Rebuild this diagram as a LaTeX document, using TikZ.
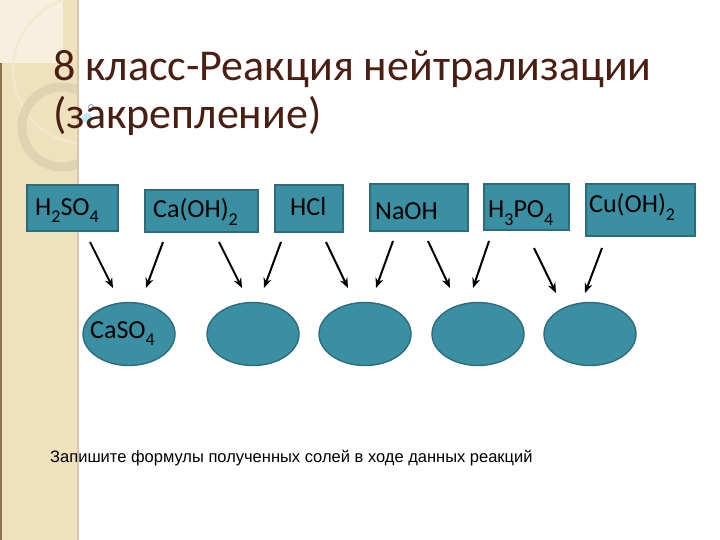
\documentclass[tikz,border=0pt]{standalone}
\usepackage{fontspec}
\setmainfont{Carlito}
\newfontfamily\arialf{Liberation Sans}
\usetikzlibrary{shapes.geometric,arrows.meta}
\definecolor{band}{HTML}{EFE0BE}
\definecolor{bandline}{HTML}{8C7350}
\definecolor{bandedge}{HTML}{D8C8A8}
\definecolor{teal}{HTML}{3A8FA3}
\definecolor{tealdark}{HTML}{2C6C7C}
\definecolor{titlec}{HTML}{4B1E12}
\newcommand{\sbs}[1]{\raisebox{-0.3em}{\fontsize{18}{18}\selectfont #1}}
\tikzset{
  boxn/.style={draw=tealdark, fill=teal, line width=1.2pt, rectangle, inner sep=0pt},
  salt/.style={draw=tealdark, fill=teal, line width=1.4pt, ellipse, inner sep=0pt, minimum width=92pt, minimum height=63pt},
  boxtxt/.style={anchor=base west, inner sep=0pt, font=\fontsize{26}{26}\selectfont, text=black},
  arr/.style={line width=2pt, -{Stealth[length=10pt,width=8pt]}},
}
\begin{document}
\begin{tikzpicture}[x=1pt,y=-1pt]
\useasboundingbox (0,0) rectangle (720,540);
\fill[white] (0,0) rectangle (720,540);
% left band
\begin{scope}
\clip (0,0) rectangle (78,540);
\fill[band] (0,0) rectangle (78,540);
\fill[white!50!band] (0,0) rectangle (63,63);
\draw[white!25!band, line width=2pt] (87,70) circle (74);
\draw[black!6!band, line width=9pt] (62,127) circle (40);
\end{scope}
\draw[bandline, line width=1.5pt] (1,63) -- (1,540);
\draw[bandedge, line width=1.5pt] (78,0) -- (78,540);
\fill[cyan!25!white] (87,118) circle (5);
\draw[cyan!40!gray, line width=0.8pt] (91,107) circle (2.5);
% title
\node[anchor=base west, inner sep=0pt, text=titlec, font=\fontsize{44}{44}\selectfont] (t1) at (53,81) {8 класс-Реакция нейтрализации};
\node[anchor=base west, inner sep=0pt, text=titlec, font=\fontsize{44}{44}\selectfont] (t2) at (53,129) {(закрепление)};
% boxes
\node[boxn, minimum width=91pt, minimum height=46pt] (b1) at (72.5,208) {};
\node[boxn, minimum width=113pt, minimum height=42pt] (b2) at (201.5,211) {};
\node[boxn, minimum width=68pt, minimum height=47pt] (b3) at (309,208.5) {};
\node[boxn, minimum width=98pt, minimum height=47pt] (b4) at (419,207.5) {};
\node[boxn, minimum width=85pt, minimum height=46pt] (b5) at (526.5,207) {};
\node[boxn, minimum width=109pt, minimum height=52pt] (b6) at (640.5,210) {};
\node[boxtxt] (l1) at (35,215) {H\sbs{2}SO\sbs{4}};
\node[boxtxt] (l2) at (153,218) {Ca(OH)\sbs{2}};
\node[boxtxt] (l3) at (290,215) {HCl};
\node[boxtxt] (l4) at (375,220) {NaOH};
\node[boxtxt] (l5) at (488,218) {H\sbs{3}PO\sbs{4}};
\node[boxtxt] (l6) at (589,213) {Cu(OH)\sbs{2}};
% ellipses
\node[salt] (e1) at (129,334) {};
\node[salt] (e2) at (253,334) {};
\node[salt] (e3) at (365,334) {};
\node[salt] (e4) at (478,334) {};
\node[salt] (e5) at (590,334) {};
\node[boxtxt] (s1) at (90,338) {CaSO\sbs{4}};
% arrows
\coordinate (a1s) at (90,242);  \coordinate (a1e) at (113,288);
\coordinate (a2s) at (163,242); \coordinate (a2e) at (146,288);
\coordinate (a3s) at (219,242); \coordinate (a3e) at (242,288);
\coordinate (a4s) at (281,242); \coordinate (a4e) at (264,288);
\coordinate (a5s) at (326,242); \coordinate (a5e) at (348,288);
\coordinate (a6s) at (393,241); \coordinate (a6e) at (376,288);
\coordinate (a7s) at (428,241); \coordinate (a7e) at (450,288);
\coordinate (a8s) at (489,241); \coordinate (a8e) at (473,288);
\coordinate (a9s) at (534,248); \coordinate (a9e) at (556,293);
\coordinate (a10s) at (602,248); \coordinate (a10e) at (585,293);
\foreach \i in {1,...,10} { \draw[arr] (a\i s) -- (a\i e); }
% bottom text
\node[anchor=base west, inner sep=0pt, font=\arialf\fontsize{16.5}{16.5}\selectfont] (q) at (50,462) {Запишите формулы полученных солей в ходе данных реакций};
\end{tikzpicture}
\end{document}
